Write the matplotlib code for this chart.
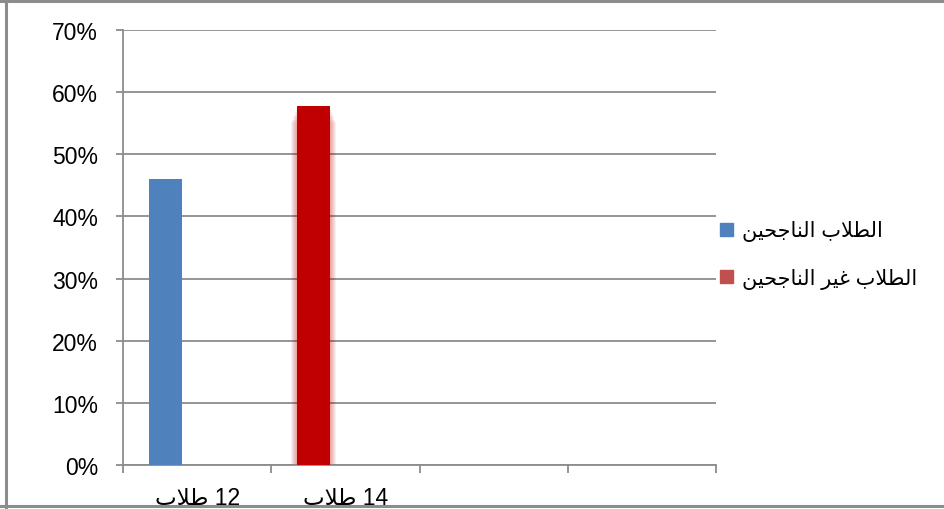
import numpy as np
import matplotlib
matplotlib.use('Agg')
import matplotlib.pyplot as plt
from matplotlib.lines import Line2D
from matplotlib.patches import Rectangle, Patch

# Arabic is written in shaped presentation forms, visual (left-to-right) order,
# because matplotlib does no Arabic shaping itself
tullab = '\uFE8F\uFEFC\uFEC3'                                    # طلاب
al_tullab = '\uFE8F\uFEFC\uFEC4\uFEDF\uFE8D'                     # الطلاب
al_najihin = '\uFEE6\uFEF4\uFEA4\uFE9F\uFE8E\uFEE8\uFEDF\uFE8D'  # الناجحين
ghayr = '\uFEAE\uFEF4\uFECF'                                     # غير

categories = [tullab + ' 12', tullab + ' 14', '', '']
series_names = [al_najihin + ' ' + al_tullab,
                al_najihin + ' ' + ghayr + ' ' + al_tullab]
passed_pct = [46.1, None, None, None]
failed_pct = [None, 57.7, None, None]
y_ticks = [0, 10, 20, 30, 40, 50, 60, 70]

blue = '#4F81BD'
red_bar = '#C00000'
red_legend = '#C0504D'
grid_c = '#8C8C8C'
fam = ['Liberation Sans', 'DejaVu Sans']
fs = 16.5

fig = plt.figure(figsize=(9.44, 5.10), dpi=100)
ax = fig.add_axes([123 / 944, 1 - 466 / 510, 593 / 944, 435 / 510])

x = np.arange(len(categories)) + 0.5
w = 0.223
off = -0.213

for xi, v in zip(x, passed_pct):
    if v is not None:
        ax.bar(xi + off, v, width=w, color=blue, zorder=3)
for xi, v in zip(x, failed_pct):
    if v is not None:
        # soft glow around the red bar
        for k in range(1, 7):
            ax.bar(xi + off, v - 0.4 * k, width=w + 2 * k / 148.25, bottom=-0.15,
                   color=red_bar, alpha=0.065, lw=0, zorder=2)
        ax.bar(xi + off, v, width=w, color=red_bar, zorder=3)

ax.set_xlim(0, len(categories))
ax.set_ylim(0, 70)
ax.set_yticks(y_ticks)
ax.set_yticklabels([f'{t}%' for t in y_ticks], family=fam, fontsize=fs)
ax.set_xticks(np.arange(len(categories) + 1))
ax.set_xticklabels([])
ax.set_xticks(x, minor=True)
ax.set_xticklabels(categories, minor=True, family=fam, fontsize=fs)

ax.grid(axis='y', color=grid_c, lw=1.3, zorder=0)
for s in ['top', 'right']:
    ax.spines[s].set_visible(False)
ax.spines['left'].set_color(grid_c)
ax.spines['bottom'].set_color(grid_c)
ax.spines['left'].set_linewidth(1.3)
ax.spines['bottom'].set_linewidth(1.3)
ax.tick_params(axis='y', which='major', length=5, width=1.3, color=grid_c, pad=13)
ax.tick_params(axis='x', which='major', length=6, width=1.3, color=grid_c)
ax.tick_params(axis='x', which='minor', length=0, pad=15)

handles = [Patch(color=blue), Patch(color=red_legend)]
fig.legend(handles, series_names, loc='center left',
           bbox_to_anchor=(720 / 944, 1 - 255.5 / 510),
           frameon=False, borderpad=0, borderaxespad=0,
           handlelength=0.6, handleheight=0.6, handletextpad=0.45,
           labelspacing=1.25, prop={'family': fam, 'size': 15})

# outer chart frame
fig.patches.append(Rectangle((0, 0), 1, 3 / 510, transform=fig.transFigure,
                             color='white', zorder=10))
for xs, ys in [((6 / 944, 6 / 944), (0, 1)),
               ((0, 1), (1 - 1.5 / 510, 1 - 1.5 / 510)),
               ((0, 1), (3 / 510, 3 / 510))]:
    fig.add_artist(Line2D(xs, ys, color='#8C8C8C', lw=2.2, zorder=11))

fig.savefig('out.png', dpi=100)
